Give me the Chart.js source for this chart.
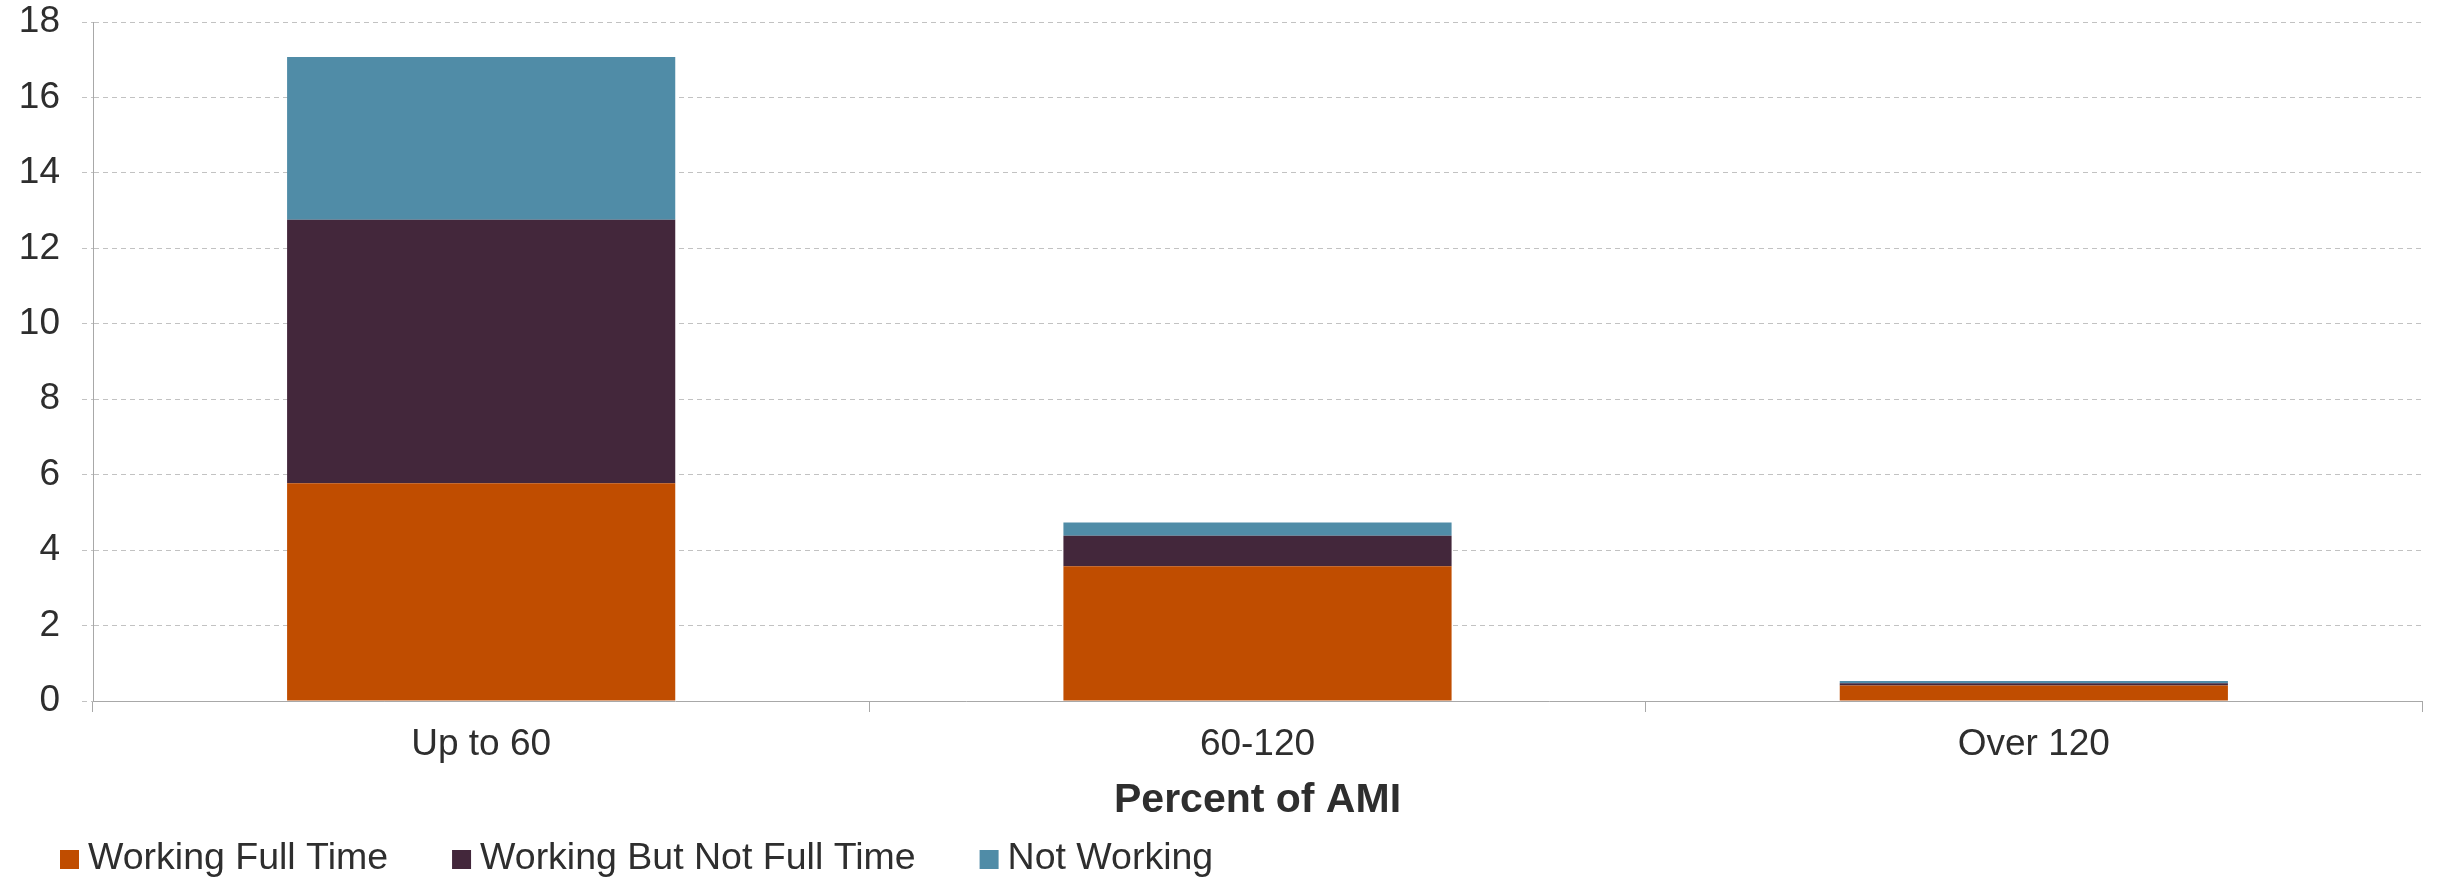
<!DOCTYPE html>
<html>
<head>
<meta charset="utf-8">
<title>Percent of AMI</title>
<script src="https://cdn.jsdelivr.net/npm/chart.js@4/dist/chart.umd.min.js"></script>
<style>
  html, body { margin: 0; padding: 0; background: #ffffff; }
  #chart { display: block; }
</style>
</head>
<body>
<canvas id="chart" width="2438" height="879"></canvas>
<script>
// Categories along the x axis
const categories = ['Up to 60', '60-120', 'Over 120'];

// Stacked series values
const workingFullTime = [5.77, 3.57, 0.41];
const workingNotFullTime = [6.99, 0.81, 0.06];
const notWorking = [4.31, 0.35, 0.06];

// Series names
const seriesNames = ['Working Full Time', 'Working But Not Full Time', 'Not Working'];

// Y axis range
const yMin = 0;
const yMax = 18;
const yStep = 2;

const axisTitle = 'Percent of AMI';

const FONT = '"Liberation Sans", Arial, Helvetica, sans-serif';
const TEXT = '#2e2e2e';
const GRID = '#c2c2c2';
const AXIS = '#a8a8a8';

// Legend drawn along the bottom edge, one box + label per dataset
const bottomLegend = {
  id: 'bottomLegend',
  afterDraw(chart) {
    const ctx = chart.ctx;
    ctx.save();
    ctx.font = '37.5px ' + FONT;
    ctx.textBaseline = 'alphabetic';
    ctx.textAlign = 'left';
    let x = 60;
    const boxTop = 850, box = 19, baseline = 869;
    chart.data.datasets.forEach(ds => {
      ctx.fillStyle = ds.backgroundColor;
      ctx.fillRect(x, boxTop, box, box);
      ctx.fillStyle = TEXT;
      ctx.fillText(ds.label, x + box + 9, baseline);
      x += box + 9 + ctx.measureText(ds.label).width + 64;
    });
    ctx.restore();
  }
};

new Chart(document.getElementById('chart'), {
  type: 'bar',
  data: {
    labels: categories,
    datasets: [
      { label: seriesNames[0], data: workingFullTime, backgroundColor: '#c04d00' },
      { label: seriesNames[1], data: workingNotFullTime, backgroundColor: '#43273b' },
      { label: seriesNames[2], data: notWorking, backgroundColor: '#508ca7' }
    ]
  },
  options: {
    responsive: false,
    devicePixelRatio: 1,
    animation: false,
    layout: { padding: { top: 22, right: 16, bottom: 54, left: 0 } },
    datasets: {
      bar: { categoryPercentage: 0.5, barPercentage: 1.0, borderWidth: 0 }
    },
    plugins: {
      legend: { display: false },
      tooltip: { enabled: false }
    },
    scales: {
      x: {
        stacked: true,
        grid: {
          display: true,
          drawOnChartArea: false,
          drawTicks: true,
          tickLength: 11,
          offset: true,
          tickColor: AXIS,
          color: AXIS
        },
        border: { display: true, color: AXIS, width: 1 },
        ticks: {
          color: TEXT,
          font: { family: FONT, size: 37 },
          padding: 11,
          maxRotation: 0
        },
        title: {
          display: true,
          text: axisTitle,
          color: TEXT,
          font: { family: FONT, size: 41, weight: 'bold' },
          padding: 0
        },
        afterFit(scale) {
          scale.height = 124;
          scale.paddingLeft = 0;
          scale.paddingRight = 0;
        }
      },
      y: {
        stacked: true,
        min: yMin,
        max: yMax,
        grid: {
          color: GRID,
          lineWidth: 1,
          tickLength: 11,
          tickColor: GRID,
          tickBorderDash: [5, 4]
        },
        // border.dash dashes the horizontal grid lines; the axis line stays solid
        border: { display: true, color: AXIS, width: 1, dash: [5, 4] },
        ticks: {
          stepSize: yStep,
          color: TEXT,
          font: { family: FONT, size: 37 },
          padding: 22
        },
        afterFit(scale) {
          scale.width = 93;
          scale.paddingTop = 0;
          scale.paddingBottom = 0;
        }
      }
    }
  },
  plugins: [bottomLegend]
});
</script>
</body>
</html>
